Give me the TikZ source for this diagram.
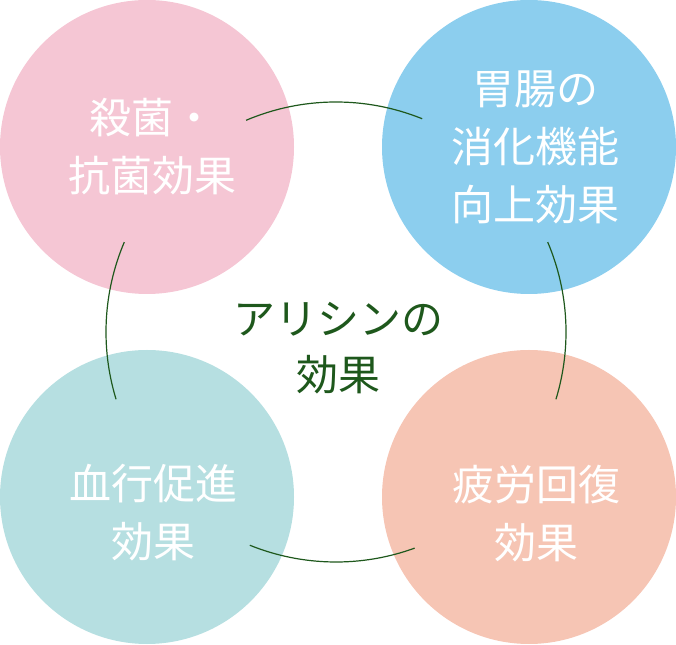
\documentclass[tikz,border=0pt]{standalone}
\usepackage{fontspec}
\setmainfont{Noto Sans CJK JP}
\definecolor{Sakura}{RGB}{245,198,212}
\definecolor{Sky}{RGB}{140,206,238}
\definecolor{Mint}{RGB}{182,223,225}
\definecolor{Peach}{RGB}{246,197,180}
\definecolor{Moss}{RGB}{30,88,28}
\definecolor{White}{RGB}{255,255,255}

\begin{document}
\begin{tikzpicture}[x=1pt,y=1pt,
    effect/.style={circle,minimum size=294pt,inner sep=0pt},
    efftext/.style={text=White,font=\fontsize{42}{58}\selectfont,align=center,inner sep=0pt},
    hubtext/.style={text=Moss,font=\fontsize{42}{56}\selectfont,align=center,inner sep=0pt},
    link/.style={draw=Moss,line width=1.2pt}
]
\useasboundingbox (0,0) rectangle (676,644);

% Circles
\node[effect,fill=Sakura] (kill) at (147,497) {};
\node[effect,fill=Sky] (gut) at (529,497) {};
\node[effect,fill=Mint] (blood) at (147,147) {};
\node[effect,fill=Peach] (rest) at (529,147) {};

% Ring connecting the circles
\coordinate (ring) at (336,312);
\draw[link] ([shift={(68:230pt)}]ring) arc[start angle=68,end angle=113,radius=230pt];
\draw[link] ([shift={(157:230pt)}]ring) arc[start angle=157,end angle=197,radius=230pt];
\draw[link] ([shift={(248:230pt)}]ring) arc[start angle=248,end angle=290,radius=230pt];
\draw[link] ([shift={(-17:230pt)}]ring) arc[start angle=-17,end angle=23,radius=230pt];

% Labels
\node[efftext] (killtxt) at (152,497) {殺菌・\\抗菌効果};
\node[efftext] (guttxt) at (535,497) {胃腸の\\消化機能\\向上効果};
\node[efftext] (bloodtxt) at (153,131) {血行促進\\効果};
\node[efftext] (resttxt) at (536,130) {疲労回復\\効果};

% Title in the middle
\node[hubtext] (hub) at (338,296) {アリシンの\\効果};

\end{tikzpicture}
\end{document}
